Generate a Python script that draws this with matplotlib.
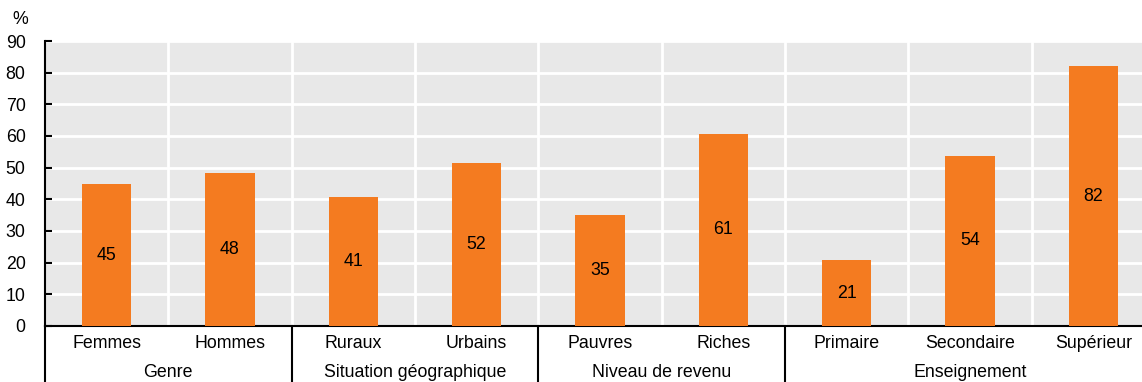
import matplotlib.pyplot as plt
import matplotlib.transforms as mtransforms

plt.rcParams['font.family'] = ['Liberation Sans Narrow', 'Liberation Sans', 'DejaVu Sans']

# data
categories = ['Femmes', 'Hommes', 'Ruraux', 'Urbains', 'Pauvres', 'Riches',
              'Primaire', 'Secondaire', 'Supérieur']
values = [44.8, 48.3, 40.7, 51.6, 34.9, 60.7, 20.8, 53.8, 82.1]
groups = ['Genre', 'Situation géographique', 'Niveau de revenu', 'Enseignement']
group_sizes = [2, 2, 2, 3]

fs = 12.8

fig = plt.figure(figsize=(11.42, 3.82), dpi=100)
# the plot area runs a little past the right edge of the image
ax = fig.add_axes([45 / 1142, 1 - 326 / 382, 1110 / 1142, (326 - 41) / 382])

x = list(range(len(categories)))
ax.set_facecolor('#e8e8e8')
ax.bar(x, values, width=0.4, color='#f47b20', zorder=3)
for xi, v in zip(x, values):
    ax.text(xi, v / 2, f'{round(v):d}', ha='center', va='center', fontsize=fs, zorder=4)

ax.set_xlim(-0.5, len(categories) - 0.5)
ax.set_ylim(0, 90)
ax.set_yticks(range(0, 91, 10))
ax.tick_params(axis='y', direction='in', length=5, width=1.5, pad=14, labelsize=fs)

# grid: white horizontals and category boundaries
for yv in range(10, 91, 10):
    ax.axhline(yv, color='white', lw=2, zorder=1)
for b in range(1, len(categories)):
    ax.axvline(b - 0.5, color='white', lw=2, zorder=1)

ax.set_xticks([])
for s in ['top', 'right']:
    ax.spines[s].set_visible(False)
ax.spines['left'].set_linewidth(1.5)
ax.spines['bottom'].set_linewidth(1.5)

trans = mtransforms.blended_transform_factory(ax.transData, ax.transAxes)
for xi, c in zip(x, categories):
    ax.text(xi, -0.062, c, transform=trans, ha='center', va='center', fontsize=fs)

start = 0
for g, n in zip(groups, group_sizes):
    ax.plot([start - 0.5, start - 0.5], [0, -0.2], transform=trans, color='black',
            lw=1.5, clip_on=False)
    ax.text(start + (n - 1) / 2, -0.163, g, transform=trans, ha='center', va='center',
            fontsize=fs)
    start += n

fig.text(20 / 1142, 1 - 19 / 382, '%', ha='center', va='center', fontsize=fs)

fig.savefig('out.png', dpi=100)
